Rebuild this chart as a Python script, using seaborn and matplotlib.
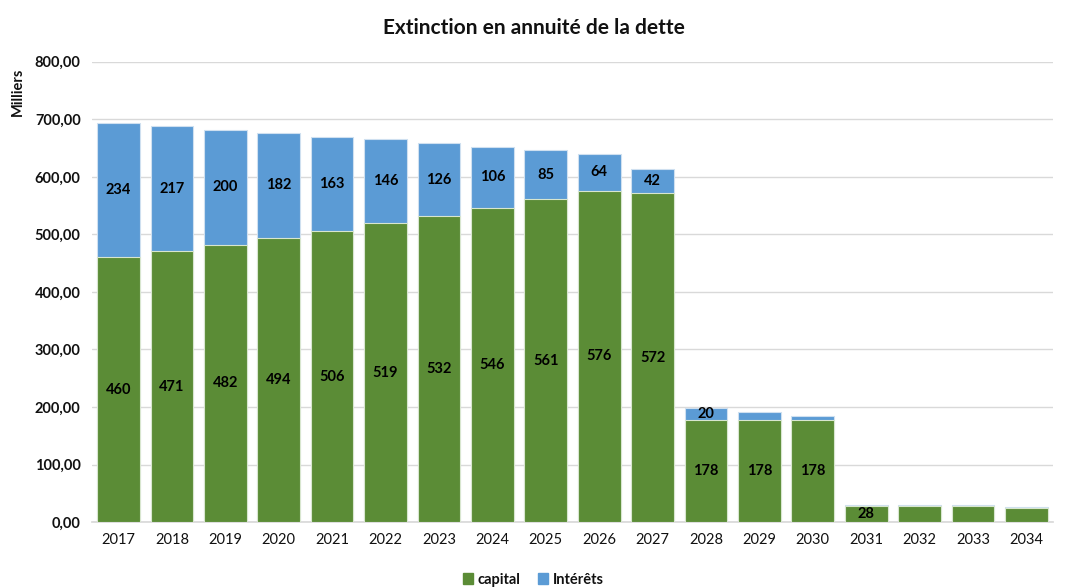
import matplotlib

matplotlib.use("Agg")
import matplotlib.pyplot as plt
import pandas as pd
import seaborn as sns
from matplotlib.patches import Patch
from matplotlib.ticker import FuncFormatter

# données (milliers)
years = [str(y) for y in range(2017, 2035)]
capital = [460, 471, 482, 494, 506, 519, 532, 546, 561, 576, 572,
           178, 178, 178, 28, 28, 28, 25]
interets = [234, 217, 200, 182, 163, 146, 126, 106, 85, 64, 42,
            20, 13, 7, 1.5, 1, 1, 1]
# étiquettes affichées
capital_labels = ["460", "471", "482", "494", "506", "519", "532", "546", "561",
                  "576", "572", "178", "178", "178", "28", "", "", ""]
interets_labels = ["234", "217", "200", "182", "163", "146", "126", "106", "85",
                   "64", "42", "20", "", "", "", "", "", ""]

GREEN = "#5B8C36"
BLUE = "#5B9BD5"

df = pd.DataFrame({"Annee": years, "capital": capital, "interets": interets})
df["total"] = df["capital"] + df["interets"]

sns.set_theme(style="white")
plt.rcParams["font.family"] = ["Lato", "DejaVu Sans"]
plt.rcParams["text.color"] = "#111111"
plt.rcParams["xtick.color"] = "#111111"
plt.rcParams["ytick.color"] = "#111111"

fig = plt.figure(figsize=(10.67, 5.88), dpi=100)
ax = fig.add_axes([0.086, 0.112, 0.901, 0.783])

sns.barplot(data=df, x="Annee", y="total", color=BLUE, saturation=1,
            width=0.8, edgecolor="#cfe0f0", linewidth=0.8, ax=ax, zorder=2)
sns.barplot(data=df, x="Annee", y="capital", color=GREEN, saturation=1,
            width=0.8, edgecolor="#d8e6cf", linewidth=0.8, ax=ax, zorder=3)

for i, row in df.iterrows():
    if capital_labels[i]:
        ax.text(i, row["capital"] / 2, capital_labels[i], ha="center", va="center",
                fontsize=10.5, fontweight="bold", color="black", zorder=5)
    if interets_labels[i]:
        ax.text(i, row["capital"] + row["interets"] / 2, interets_labels[i],
                ha="center", va="center", fontsize=10.5, fontweight="bold",
                color="black", zorder=5)

ax.set_ylim(0, 800)
ax.set_xlim(-0.5, len(years) - 0.5)
ax.set_yticks(range(0, 801, 100))
ax.yaxis.set_major_formatter(FuncFormatter(lambda v, p: f"{v:.2f}".replace(".", ",")))
ax.grid(axis="y", color="#d9d9d9", linewidth=1, zorder=0)
ax.set_axisbelow(True)
for s in ["top", "right", "left"]:
    ax.spines[s].set_visible(False)
ax.spines["bottom"].set_color("#d9d9d9")
ax.tick_params(axis="y", length=0, labelsize=10.5, pad=8)
ax.tick_params(axis="x", length=0, labelsize=10.5, pad=8)
for lab in ax.get_yticklabels():
    lab.set_fontweight("bold")
ax.set_xlabel("")
ax.set_ylabel("")

fig.text(0.017, 0.885, "Milliers", rotation=90, ha="center", va="top",
         fontsize=10.5, fontweight="bold")
fig.suptitle("Extinction en annuité de la dette", y=0.97, fontsize=15,
             fontweight="bold")

handles = [Patch(color=GREEN, label="capital"), Patch(color=BLUE, label="Intérêts")]
fig.legend(handles=handles, loc="lower center", bbox_to_anchor=(0.5, -0.02),
           ncol=2, frameon=False, handlelength=0.7, handleheight=0.7,
           handletextpad=0.3, columnspacing=1.2, prop={"weight": "bold", "size": 10.5})

fig.savefig("out.png", dpi=100)
